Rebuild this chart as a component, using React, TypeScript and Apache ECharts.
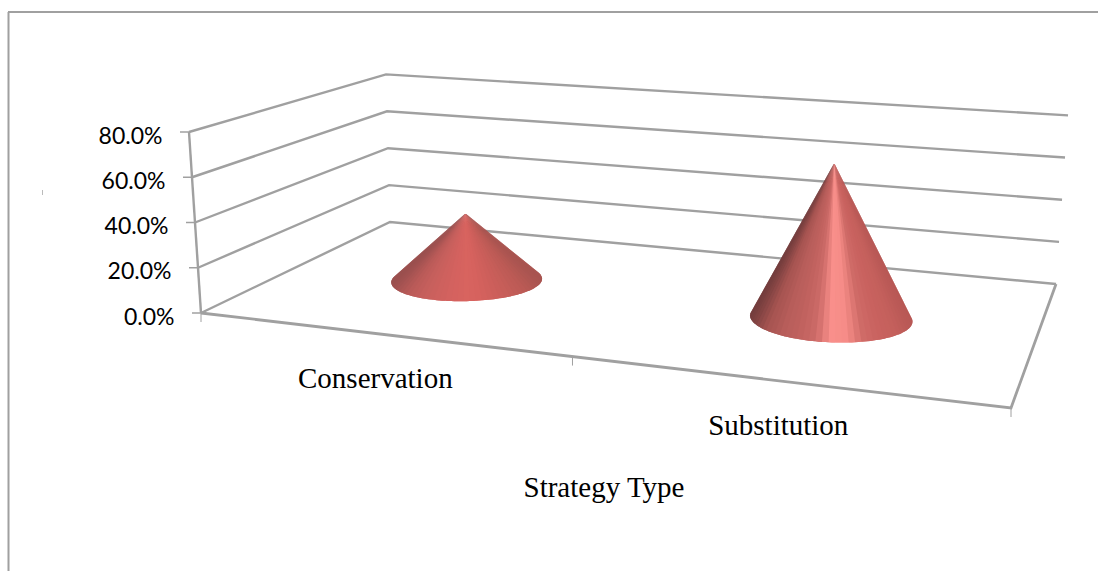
import React, { useEffect, useRef } from "react";
import * as echarts from "echarts";

const categories = ["Conservation", "Substitution"];
const shareValues = [31.5, 68];
const yTicks = [0, 20, 40, 60, 80];
const yTickLabels = ["0.0%", "20.0%", "40.0%", "60.0%", "80.0%"];
const xAxisTitle = "Strategy Type";

const GRID = { left: 201, top: 132, width: 810, height: 181 };
const GRAY = "#a0a0a0";
const coneShades = [
  ["#9a4f4e", "#b85a58", "#c65f5c", "#ce615e", "#d4625f", "#d8645f", "#d5625e", "#cd5f5b", "#c45d58", "#ba5a55", "#a85450"],
  ["#743d3d", "#a65451", "#b75d5a", "#c0625f", "#cc6a67", "#f98f8b", "#f58c87", "#cf6b67", "#c9625f", "#c4605c", "#b85855"],
];

// floor corners of the 3D plot box
const g = -0.1529;
const e = 0.2265;
const FL = [201, 313];
const FR = [1011, 408];
const BL = [390, 222];

function project(u: number, d: number, h: number): number[] {
  const w = 1 + g * u + e * d;
  const x = FL[0] + (FR[0] * (1 + g) - FL[0]) * u + (BL[0] * (1 + e) - FL[0]) * d;
  const y = FL[1] + (FR[1] * (1 + g) - FL[1]) * u + (BL[1] * (1 + e) - FL[1]) * d;
  return [x / w + (-12 + 16 * u + 8 * d) * h, y / w - (GRID.height * h) / w];
}

const line = (points: number[][], width = 2.4) => ({
  type: "polyline",
  shape: { points },
  style: { stroke: GRAY, lineWidth: width, fill: "none" },
  silent: true,
});

const serifText = (text: string, x: number, y: number) => ({
  type: "text",
  style: {
    text,
    x,
    y,
    fill: "#000",
    align: "center",
    verticalAlign: "middle",
    fontFamily: "Liberation Serif",
    fontSize: 29,
  },
});

function renderGridLine(_: any, api: any) {
  const v = api.value(1);
  const h = (GRID.top + GRID.height - api.coord([0, v])[1]) / GRID.height;
  const a = project(0, 0, h);
  const idx = yTicks.indexOf(v);
  return {
    type: "group",
    children: [
      line([a, project(0, 1, h), project(1, 1, h)]),
      line([[a[0] - 9, a[1]], a], 1.5),
      {
        type: "text",
        style: {
          text: yTickLabels[idx],
          x: a[0] - 26.5,
          y: a[1] + 2.5,
          fill: "#000",
          align: "right",
          verticalAlign: "middle",
          fontFamily: "Lato",
          fontSize: 23,
        },
      },
    ],
  };
}

function renderBox() {
  const ticks = [0, 0.5, 1].map((u) => {
    const p = project(u, 0, 0);
    return line([p, [p[0], p[1] + 9]], 1);
  });
  return {
    type: "group",
    children: [
      line([project(0, 0, 1), project(0, 0, 0)], 2.4),
      line([project(0, 0, 0), project(1, 0, 0), project(1, 1, 0)], 2.8),
      ...ticks,
    ],
  };
}

function renderCone(params: any, api: any) {
  const i = api.value(0);
  const v = api.value(1);
  const c = api.coord([i, v]);
  const u = (c[0] - GRID.left) / GRID.width;
  const h = (GRID.top + GRID.height - c[1]) / GRID.height;
  const apex = project(u - 0.002, 0.5, h);
  const N = 160;
  const pts: number[][] = [];
  for (let k = 0; k < N; k++) {
    const t = (k / N) * Math.PI * 2;
    pts.push(project(u - 0.002 + 0.101 * Math.cos(t), 0.5 + 0.2 * Math.sin(t), 0));
  }
  const xs = pts.map((p) => p[0]);
  const minX = Math.min(...xs);
  const maxX = Math.max(...xs);
  // visible arc: walk both ways from the lowest point up to the tangents seen from the apex
  const cross = (p: number[], q: number[]) =>
    (p[0] - apex[0]) * (q[1] - apex[1]) - (p[1] - apex[1]) * (q[0] - apex[0]);
  let low = 0;
  pts.forEach((p, k) => {
    if (p[1] > pts[low][1]) low = k;
  });
  const at = (k: number) => pts[((k % N) + N) % N];
  const sign = Math.sign(cross(at(low), at(low + 1)));
  let start = low;
  while (Math.sign(cross(at(start - 1), at(start))) === sign) start--;
  let end = low + 1;
  while (Math.sign(cross(at(end), at(end + 1))) === sign) end++;
  const arc: number[][] = [];
  for (let k = start; k <= end; k++) arc.push(at(k));
  if (arc[0][0] > arc[arc.length - 1][0]) arc.reverse();
  const children: any[] = [];
  for (let k = 0; k < arc.length - 1; k += 2) {
    const part = arc.slice(k, k + 5);
    const s = (part[Math.min(1, part.length - 1)][0] - minX) / (maxX - minX);
    children.push({
      type: "polygon",
      shape: { points: [apex, ...part] },
      style: { fill: echarts.color.lerp(Math.max(0, Math.min(1, s)), coneShades[i]) },
      silent: true,
    });
  }
  const fp = project(u, 0, 0);
  children.push(serifText(categories[i], fp[0] - 4, fp[1] + 44));
  return { type: "group", children };
}

export default function App() {
  const ref = useRef<HTMLDivElement>(null);
  useEffect(() => {
    document.body.style.margin = "0";
    const chart = echarts.init(ref.current!, null, { renderer: "svg" });
    chart.setOption({
      animation: false,
      backgroundColor: "#ffffff",
      grid: { ...GRID },
      xAxis: { type: "category", data: categories, show: false },
      yAxis: { type: "value", min: 0, max: 80, interval: 20, show: false },
      graphic: [
        { type: "line", shape: { x1: 8.5, y1: 12, x2: 8.5, y2: 571 }, style: { stroke: GRAY, lineWidth: 2 } },
        { type: "line", shape: { x1: 8, y1: 12, x2: 1098, y2: 12 }, style: { stroke: GRAY, lineWidth: 2 } },
        { type: "line", shape: { x1: 42.5, y1: 190, x2: 42.5, y2: 195 }, style: { stroke: "#bbbbbb", lineWidth: 1 } },
        { ...serifText(xAxisTitle, 604, 487) },
      ],
      series: [
        { type: "custom", clip: false, silent: true, data: [[0, 0]], renderItem: renderBox },
        { type: "custom", clip: false, silent: true, data: yTicks.map((v) => [0, v]), renderItem: renderGridLine },
        { type: "custom", clip: false, silent: true, data: shareValues.map((v, i) => [i, v]), renderItem: renderCone },
      ],
    });
    return () => chart.dispose();
  }, []);
  return <div ref={ref} style={{ width: 1098, height: 571 }} />;
}
